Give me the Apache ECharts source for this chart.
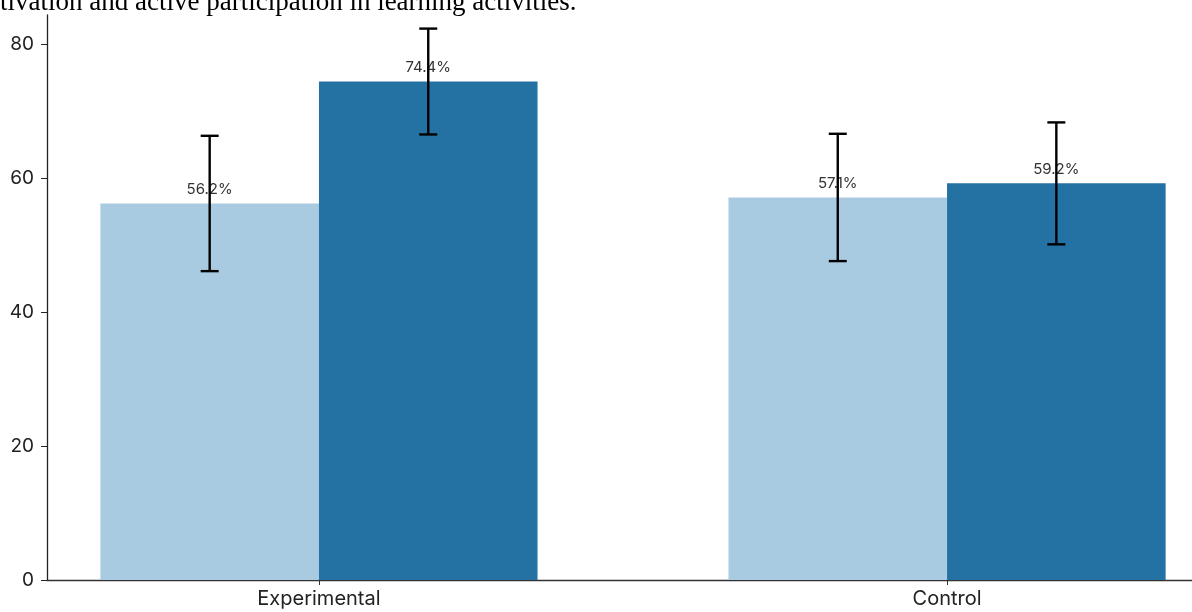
<!DOCTYPE html>
<html>
<head>
<meta charset="utf-8">
<style>
  html, body { margin: 0; padding: 0; background: #fff; }
  #chart { width: 1192px; height: 612px; }
</style>
<script src="https://cdn.jsdelivr.net/npm/echarts@6/dist/echarts.min.js"></script>
</head>
<body>
<div id="chart"></div>
<script>
// Groups and measured engagement (%), with error half-widths
const categories = ['Experimental', 'Control'];
const preValues = [56.2, 57.1];
const postValues = [74.4, 59.2];
const preErrors = [10.1, 9.5];
const postErrors = [7.9, 9.1];
const yTicks = [0, 20, 40, 60, 80];

const captionText = 'tivation and active participation in learning activities.';

const LIGHT = '#a9cbe2';
const DARK = '#2471a3';
const BAR_W = 0.348;

// rows: [categoryIndex, offset, value, error, colour]
const rows = [];
categories.forEach((c, i) => {
  rows.push([i, -BAR_W / 2, preValues[i], preErrors[i], 0]);
  rows.push([i, BAR_W / 2, postValues[i], postErrors[i], 1]);
});

function renderBar(params, api) {
  const ci = api.value(0), off = api.value(1), v = api.value(2), err = api.value(3);
  const colour = api.value(4) === 0 ? LIGHT : DARK;
  const left = api.coord([ci + off - BAR_W / 2, v]);
  const right = api.coord([ci + off + BAR_W / 2, 0]);
  const mid = api.coord([ci + off, v]);
  const hi = api.coord([ci + off, v + err]);
  const lo = api.coord([ci + off, v - err]);
  const cap = 9;
  const lineStyle = { stroke: '#000', lineWidth: 2.4 };
  return {
    type: 'group',
    children: [
      { type: 'rect', shape: { x: left[0], y: left[1], width: right[0] - left[0], height: right[1] - left[1] },
        style: { fill: colour } },
      { type: 'text', z2: 5, style: { text: v.toFixed(1) + '%', x: mid[0], y: mid[1] - 14,
        align: 'center', verticalAlign: 'middle', fill: '#333', font: '15px Inter' } },
      { type: 'line', z2: 10, shape: { x1: mid[0], y1: hi[1], x2: mid[0], y2: lo[1] }, style: lineStyle },
      { type: 'line', z2: 10, shape: { x1: mid[0] - cap, y1: hi[1], x2: mid[0] + cap, y2: hi[1] }, style: lineStyle },
      { type: 'line', z2: 10, shape: { x1: mid[0] - cap, y1: lo[1], x2: mid[0] + cap, y2: lo[1] }, style: lineStyle }
    ]
  };
}

const chart = echarts.init(document.getElementById('chart'), null, { renderer: 'canvas' });
chart.setOption({
  animation: false,
  backgroundColor: '#fff',
  grid: { left: 47, right: 0, top: 15, bottom: 32, containLabel: false },
  xAxis: {
    type: 'value',
    min: -0.433,
    max: 1.39,
    splitLine: { show: false },
    axisLine: { show: true, onZero: false, lineStyle: { color: '#333', width: 1.3 } },
    axisTick: { show: true, customValues: [0, 1], length: 5, lineStyle: { color: '#333', width: 1 } },
    axisLabel: {
      customValues: [0, 1],
      formatter: v => categories[Math.round(v)],
      margin: 9, color: '#222', fontFamily: 'Inter', fontSize: 20
    }
  },
  yAxis: {
    type: 'value',
    min: 0,
    max: 84.33,
    splitLine: { show: false },
    axisLine: { show: true, onZero: false, lineStyle: { color: '#222', width: 1.3 } },
    axisTick: { show: true, customValues: yTicks, length: 6, lineStyle: { color: '#222', width: 1 } },
    axisLabel: {
      customValues: yTicks,
      margin: 13, color: '#222', fontFamily: 'Inter', fontSize: 19
    }
  },
  graphic: [
    { type: 'text', left: 0, top: -11, z: 100,
      style: { text: captionText, fill: '#000', font: '27px "Liberation Serif"' } }
  ],
  series: [{
    type: 'custom',
    renderItem: renderBar,
    encode: { x: 0, y: 2 },
    data: rows,
    clip: false
  }]
});
</script>
</body>
</html>
